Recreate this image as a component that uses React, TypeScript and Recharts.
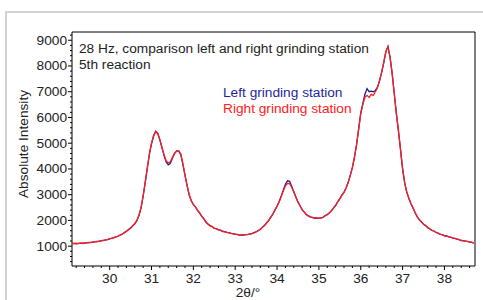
import {
  Line,
  LineChart,
  ReferenceArea,
  XAxis,
  YAxis,
} from "recharts";

// 2θ positions (deg)
const angles = [
  29.1, 29.15, 29.2, 29.25, 29.3, 29.35, 29.4, 29.45, 29.5, 29.55, 29.6, 29.65, 29.7, 29.75, 29.8, 29.85, 29.9, 29.95,
  30.0, 30.05, 30.1, 30.15, 30.2, 30.25, 30.3, 30.35, 30.4, 30.45, 30.5, 30.55, 30.6, 30.65, 30.7, 30.75, 30.8, 30.85, 30.9, 30.95,
  31.0, 31.05, 31.1, 31.15, 31.2, 31.25, 31.3, 31.35, 31.4, 31.45, 31.5, 31.55, 31.6, 31.65, 31.7, 31.75, 31.8, 31.85, 31.9, 31.95,
  32.0, 32.05, 32.1, 32.15, 32.2, 32.25, 32.3, 32.35, 32.4, 32.45, 32.5, 32.55, 32.6, 32.65, 32.7, 32.75, 32.8, 32.85, 32.9, 32.95,
  33.0, 33.05, 33.1, 33.15, 33.2, 33.25, 33.3, 33.35, 33.4, 33.45, 33.5, 33.55, 33.6, 33.65, 33.7, 33.75, 33.8, 33.85, 33.9, 33.95,
  34.0, 34.05, 34.1, 34.15, 34.2, 34.25, 34.3, 34.35, 34.4, 34.45, 34.5, 34.55, 34.6, 34.65, 34.7, 34.75, 34.8, 34.85, 34.9, 34.95,
  35.0, 35.05, 35.1, 35.15, 35.2, 35.25, 35.3, 35.35, 35.4, 35.45, 35.5, 35.55, 35.6, 35.65, 35.7, 35.75, 35.8, 35.85, 35.9, 35.95,
  36.0, 36.05, 36.1, 36.15, 36.2, 36.25, 36.3, 36.35, 36.4, 36.45, 36.5, 36.55, 36.6, 36.65, 36.7, 36.75, 36.8, 36.85, 36.9, 36.95,
  37.0, 37.05, 37.1, 37.15, 37.2, 37.25, 37.3, 37.35, 37.4, 37.45, 37.5, 37.55, 37.6, 37.65, 37.7, 37.75, 37.8, 37.85, 37.9, 37.95,
  38.0, 38.05, 38.1, 38.15, 38.2, 38.25, 38.3, 38.35, 38.4, 38.45, 38.5, 38.55, 38.6, 38.65, 38.7,
];

const leftStation = [
  1105, 1100, 1110, 1100, 1115, 1120, 1115, 1130, 1140, 1150, 1155, 1180, 1185, 1190, 1215, 1220, 1245, 1255,
  1285, 1305, 1330, 1360, 1385, 1435, 1465, 1525, 1575, 1645, 1700, 1795, 1870, 2000, 2190, 2490, 2940, 3480, 4030, 4580,
  4980, 5280, 5450, 5370, 5120, 4820, 4520, 4270, 4160, 4220, 4420, 4600, 4700, 4690, 4560, 4180, 3760, 3360, 2990, 2770,
  2610, 2530, 2390, 2290, 2160, 2070, 1940, 1860, 1790, 1760, 1690, 1680, 1630, 1620, 1570, 1565, 1535, 1525, 1495, 1485,
  1460, 1455, 1430, 1435, 1435, 1450, 1450, 1475, 1485, 1525, 1555, 1610, 1650, 1740, 1800, 1910, 1990, 2130, 2240, 2410,
  2550, 2740, 2950, 3180, 3400, 3540, 3520, 3330, 3110, 2910, 2710, 2570, 2410, 2330, 2220, 2180, 2130, 2120, 2085, 2095,
  2080, 2100, 2120, 2190, 2225, 2300, 2370, 2490, 2580, 2730, 2840, 2990, 3090, 3270, 3470, 3760, 4050, 4460, 4940, 5560,
  6180, 6550, 6900, 7120, 7000, 7020, 7000, 7050, 7180, 7420, 7760, 8130, 8560, 8760, 8330, 7720, 6930, 6170, 5480, 4760,
  3990, 3460, 3090, 2860, 2640, 2490, 2290, 2150, 2020, 1950, 1850, 1800, 1720, 1680, 1610, 1590, 1530, 1505, 1460, 1445,
  1405, 1395, 1365, 1350, 1315, 1305, 1270, 1255, 1220, 1215, 1195, 1190, 1160, 1155, 1120,
];

const rightStation = [
  1100, 1115, 1095, 1110, 1120, 1105, 1125, 1135, 1150, 1140, 1165, 1175, 1170, 1195, 1210, 1225, 1240, 1260,
  1290, 1310, 1335, 1365, 1390, 1430, 1470, 1520, 1580, 1640, 1710, 1790, 1880, 1990, 2200, 2500, 2950, 3500, 4050, 4600,
  5000, 5300, 5470, 5390, 5150, 4850, 4550, 4320, 4230, 4280, 4450, 4610, 4690, 4700, 4580, 4200, 3750, 3350, 3000, 2760,
  2620, 2520, 2400, 2280, 2170, 2060, 1930, 1850, 1800, 1750, 1700, 1670, 1640, 1610, 1580, 1560, 1540, 1520, 1500, 1480,
  1465, 1450, 1435, 1430, 1440, 1445, 1455, 1470, 1490, 1520, 1560, 1600, 1660, 1730, 1810, 1900, 2000, 2120, 2250, 2400,
  2560, 2720, 2930, 3150, 3340, 3440, 3430, 3290, 3100, 2900, 2720, 2560, 2420, 2320, 2230, 2170, 2140, 2110, 2095, 2090,
  2085, 2095, 2130, 2180, 2230, 2290, 2380, 2480, 2590, 2720, 2850, 2980, 3100, 3260, 3480, 3750, 4060, 4450, 4950, 5550,
  6150, 6500, 6780, 6860, 6780, 6900, 6860, 7000, 7150, 7450, 7750, 8150, 8550, 8750, 8350, 7700, 6950, 6150, 5500, 4750,
  4000, 3450, 3100, 2850, 2650, 2480, 2300, 2140, 2030, 1940, 1860, 1790, 1730, 1670, 1620, 1580, 1540, 1500, 1465, 1440,
  1410, 1390, 1370, 1345, 1320, 1300, 1275, 1250, 1225, 1210, 1200, 1185, 1165, 1150, 1125,
];

const xMajorTicks = [30, 31, 32, 33, 34, 35, 36, 37, 38];
const yMajorTicks = [1000, 2000, 3000, 4000, 5000, 6000, 7000, 8000, 9000];

const X_DOMAIN: [number, number] = [29.1, 38.73];
const Y_DOMAIN: [number, number] = [230, 9320];

const data = angles.map((angle, i) => ({
  angle,
  left: leftStation[i],
  right: rightStation[i],
}));

// minor ticks between the major ones
const xTicks: number[] = [];
for (let v = 29.2; v <= 38.7; v += 0.2) xTicks.push(Math.round(v * 10) / 10);
const yTicks: number[] = [];
for (let v = 400; v <= 9200; v += 200) yTicks.push(v);

const font = '"Liberation Sans", Arial, sans-serif';
const textColor = "#222";
const fs = 13.7;

const PLOT_LEFT = 72;
const PLOT_BOTTOM = 266;

function YTick(props: any) {
  const { y, payload } = props;
  const major = yMajorTicks.includes(payload.value);
  return (
    <g>
      <line x1={PLOT_LEFT} x2={PLOT_LEFT - (major ? 4 : 2)} y1={y} y2={y} stroke="#000" strokeWidth={1} />
      {major && (
        <text x={67} y={y} textAnchor="end" dominantBaseline="central" fontSize={fs} fill={textColor} fontFamily={font}>
          {payload.value}
        </text>
      )}
    </g>
  );
}

function XTick(props: any) {
  const { x, payload } = props;
  const major = xMajorTicks.some((t) => Math.abs(t - payload.value) < 1e-6);
  return (
    <g>
      <line x1={x} x2={x} y1={PLOT_BOTTOM} y2={PLOT_BOTTOM + (major ? 4 : 2)} stroke="#000" strokeWidth={1} />
      {major && (
        <text x={x} y={PLOT_BOTTOM + 12} textAnchor="middle" dominantBaseline="central" fontSize={fs} fill={textColor} fontFamily={font}>
          {payload.value}
        </text>
      )}
    </g>
  );
}

export default function App() {
  return (
    <div style={{ position: "fixed", left: 0, top: 0, width: 483, height: 300, background: "#fff", overflow: "hidden" }}>
      <div
        style={{
          position: "absolute",
          left: 5,
          top: 11,
          width: 500,
          height: 320,
          borderTop: "2px solid #d2d2d2",
          borderLeft: "2px solid #d2d2d2",
        }}
      />
      <div style={{ position: "absolute", left: 0, top: 0 }}>
        <LineChart width={483} height={300} data={data} margin={{ top: 32, right: 8, bottom: 4, left: 12 }}>
          <XAxis
            dataKey="angle"
            type="number"
            domain={X_DOMAIN}
            allowDataOverflow
            ticks={[...xTicks, ...xMajorTicks.filter((t) => !xTicks.includes(t))].sort((a, b) => a - b)}
            interval={0}
            tick={<XTick />}
            tickLine={false}
            axisLine={false}
            height={30}
          />
          <YAxis
            type="number"
            domain={Y_DOMAIN}
            allowDataOverflow
            ticks={yTicks}
            interval={0}
            tick={<YTick />}
            tickLine={false}
            axisLine={false}
            width={60}
          />
          <ReferenceArea
            x1={X_DOMAIN[0]}
            x2={X_DOMAIN[1]}
            y1={Y_DOMAIN[0]}
            y2={Y_DOMAIN[1]}
            fill="none"
            stroke="#000"
            strokeWidth={1}
            fillOpacity={0}
          />
          <Line type="linear" dataKey="left" stroke="#1c1c96" strokeWidth={1.3} dot={false} isAnimationActive={false} />
          <Line type="linear" dataKey="right" stroke="#ff1f1f" strokeWidth={1.3} dot={false} isAnimationActive={false} />
        </LineChart>
      </div>
      <svg width={483} height={300} style={{ position: "absolute", left: 0, top: 0, pointerEvents: "none" }}>
        <g fontFamily={font} fontSize={fs}>
          <text x={79} y={48} dominantBaseline="central" fill={textColor}>
            28 Hz, comparison left and right grinding station
          </text>
          <text x={79} y={64} dominantBaseline="central" fill={textColor}>
            5th reaction
          </text>
          <text x={223} y={92} dominantBaseline="central" fill="#1f1f9c">
            Left grinding station
          </text>
          <text x={223} y={108} dominantBaseline="central" fill="#ff2020">
            Right grinding station
          </text>
          <text
            x={23}
            y={144}
            textAnchor="middle"
            dominantBaseline="central"
            fill={textColor}
            transform="rotate(-90 23 144)"
          >
            Absolute Intensity
          </text>
          <text x={248} y={292} textAnchor="middle" dominantBaseline="central" fill={textColor}>
            2θ/°
          </text>
        </g>
      </svg>
    </div>
  );
}
